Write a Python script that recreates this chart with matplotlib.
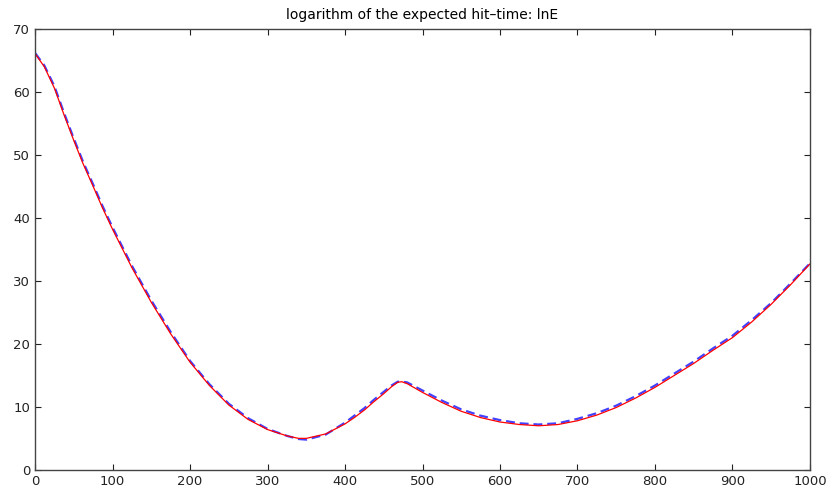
import matplotlib.pyplot as plt

plt.rcParams['font.family'] = ['DejaVu Sans']

# red solid curve
x = [0, 12, 25, 37, 50, 62, 75, 87, 100, 125, 150, 175, 200, 225, 250, 275,
     300, 325, 340, 350, 375, 400, 412, 425, 437, 450, 460, 468, 473, 480,
     500, 525, 550, 575, 600, 625, 650, 675, 700, 725, 750, 775, 800, 825,
     850, 875, 900, 925, 950, 975, 1000]
red = [66.1, 64.0, 60.6, 56.5, 52.3, 48.6, 45.0, 41.6, 38.2, 32.1, 26.6, 21.6,
       17.1, 13.4, 10.3, 8.0, 6.4, 5.4, 5.0, 5.0, 5.7, 7.3, 8.3, 9.5, 10.8,
       12.1, 13.2, 13.9, 14.0, 13.7, 12.3, 10.7, 9.3, 8.3, 7.6, 7.2, 7.0, 7.2,
       7.8, 8.7, 9.9, 11.4, 13.1, 15.0, 16.9, 19.0, 21.0, 23.5, 26.3, 29.4,
       32.7]
# blue dashed curve
blue = [66.2, 64.2, 60.9, 56.8, 52.6, 48.9, 45.3, 41.9, 38.5, 32.4, 26.9, 21.9,
        17.3, 13.6, 10.5, 8.2, 6.5, 5.4, 4.9, 4.8, 5.6, 7.5, 8.6, 9.8, 11.1,
        12.4, 13.4, 14.0, 14.0, 13.9, 12.6, 11.0, 9.6, 8.6, 7.9, 7.4, 7.2,
        7.4, 8.1, 9.0, 10.2, 11.7, 13.4, 15.3, 17.2, 19.3, 21.3, 23.8, 26.5,
        29.6, 32.8]

fig = plt.figure(figsize=(8.35, 4.92), dpi=100)
ax = fig.add_axes([0.042, 0.045, 0.928, 0.896])

ax.plot(x, blue, color='#2020ff', lw=1.6, dashes=(4, 2.2), alpha=0.85)
ax.plot(x, red, color='red', lw=0.9)

ax.set_xlim(0, 1000)
ax.set_ylim(0, 70)
ax.set_xticks(range(0, 1001, 100))
ax.set_yticks(range(0, 71, 10))
ax.tick_params(direction='in', top=True, right=True, length=4, width=0.8,
               labelsize=9.5, pad=3.5, colors='#222222')
for s in ax.spines.values():
    s.set_color('#444444')
    s.set_linewidth(1.0)

ax.set_title('logarithm of the expected hit\u2013time: lnE', fontsize=10, pad=7)

fig.savefig('out.png', dpi=100)
